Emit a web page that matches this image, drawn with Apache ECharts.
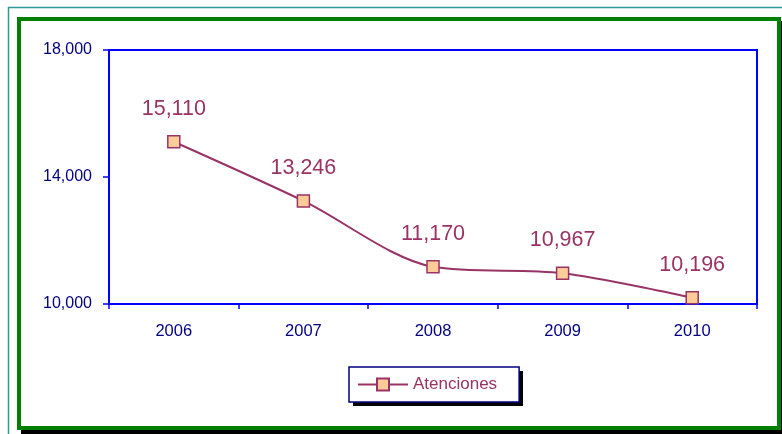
<!DOCTYPE html>
<html>
<head>
<meta charset="utf-8">
<script src="https://cdn.jsdelivr.net/npm/echarts@6/dist/echarts.min.js"></script>
<style>
html,body{margin:0;padding:0;background:#fff;}
#chart{width:782px;height:434px;}
</style>
</head>
<body>
<div id="chart"></div>
<script>
const categories = ['2006', '2007', '2008', '2009', '2010'];
const atenciones = [15110, 13246, 11170, 10967, 10196];
const seriesName = 'Atenciones';
const yMin = 10000, yMax = 18000, yInterval = 4000;

const chart = echarts.init(document.getElementById('chart'), null, {renderer: 'canvas'});
const maroon = '#993366';
const navy = '#000080';
const blue = '#0000FF';
const fontFam = 'Arial, "Liberation Sans", Helvetica, sans-serif';

chart.setOption({
  animation: false,
  backgroundColor: '#ffffff',
  graphic: [
    {type: 'rect', z: -100, silent: true, shape: {x: 8.5, y: 7.5, width: 900, height: 600},
      style: {fill: '#ffffff', stroke: '#2E9999', lineWidth: 1.5}},
    {type: 'rect', z: -99, silent: true, shape: {x: 21, y: 21, width: 800, height: 413},
      style: {fill: '#000000'}},
    {type: 'rect', z: -98, silent: true, shape: {x: 19, y: 19, width: 760, height: 409},
      style: {fill: '#ffffff', stroke: '#008000', lineWidth: 4}},
    {type: 'rect', z: -97, silent: true, shape: {x: 353, y: 371, width: 170, height: 35},
      style: {fill: '#000000'}}
  ],
  grid: {
    left: 109, right: 25, top: 50, bottom: 130,
    show: true, borderColor: blue, borderWidth: 2, backgroundColor: 'transparent'
  },
  legend: {
    data: [seriesName],
    left: 349, top: 367,
    padding: [9, 22, 9, 8],
    itemWidth: 50, itemHeight: 15,
    backgroundColor: '#ffffff',
    borderColor: navy, borderWidth: 1.5, borderRadius: 0,
    textStyle: {color: maroon, fontSize: 17, fontFamily: fontFam}
  },
  xAxis: {
    type: 'category',
    data: categories,
    boundaryGap: true,
    axisLine: {lineStyle: {color: blue, width: 2}},
    axisTick: {show: true, length: 5, lineStyle: {color: blue, width: 1.5}},
    axisLabel: {color: navy, fontSize: 16.5, fontFamily: fontFam, margin: 19},
    splitLine: {show: false}
  },
  yAxis: {
    type: 'value',
    min: yMin, max: yMax, interval: yInterval,
    axisLine: {show: true, lineStyle: {color: blue, width: 2}},
    axisTick: {show: true, length: 6, lineStyle: {color: blue, width: 1.5}},
    axisLabel: {
      color: navy, fontSize: 16, fontFamily: fontFam, margin: 17,
      formatter: v => v.toLocaleString('en-US')
    },
    splitLine: {show: false}
  },
  series: [{
    name: seriesName,
    type: 'line',
    data: atenciones,
    smooth: 0.3,
    symbol: 'rect',
    symbolSize: 12,
    lineStyle: {color: maroon, width: 2},
    itemStyle: {color: '#FFCC99', borderColor: maroon, borderWidth: 1.5},
    label: {
      show: true, position: 'top', distance: 15,
      color: maroon, fontSize: 21.5, fontFamily: fontFam,
      formatter: p => p.value.toLocaleString('en-US')
    }
  }]
});
</script>
</body>
</html>
